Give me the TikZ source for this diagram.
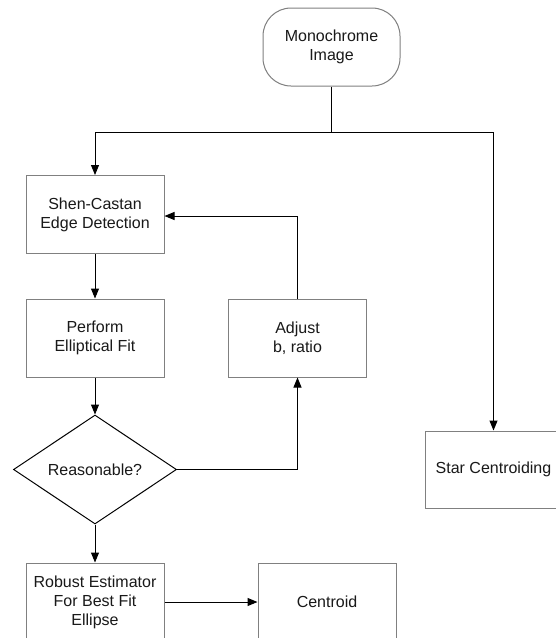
\documentclass[tikz,border=0pt]{standalone}
\usepackage{fontspec}
\setmainfont{Liberation Sans}
\usetikzlibrary{arrows.meta,shapes.geometric}

\tikzset{
  box/.style={draw=black!50, line width=1pt, fill=white, rectangle,
    minimum width=138pt, minimum height=78pt, inner sep=2pt,
    align=center, font=\fontsize{16}{19}\selectfont, text=black!90},
  startbox/.style={box, rounded corners=28pt, minimum width=137pt},
  decision/.style={draw=black, line width=1pt, diamond, shape aspect=1.5,
    minimum width=163pt, minimum height=109pt, inner sep=0pt,
    font=\fontsize{16}{19}\selectfont, text=black!90},
  flow/.style={draw=black, line width=1pt,
    -{Triangle[length=10pt,width=8pt]}},
  wire/.style={draw=black, line width=1pt}
}

\begin{document}
\begin{tikzpicture}[x=1pt, y=-1pt]
  \clip (0,0) rectangle (556,638);
  \fill[white] (0,0) rectangle (556,638);

  % process nodes
  \node[startbox] (mono)   at (331.5,47)  {Monochrome\\Image};
  \node[box]      (shen)   at (95,214.5)  {Shen-Castan\\Edge Detection};
  \node[box]      (perf)   at (95,338)    {Perform\\Elliptical Fit};
  \node[box]      (adj)    at (297.5,338) {Adjust\\b, ratio};
  \node[decision] (dia)    at (95,469.5)  {Reasonable?};
  \node[box]      (robust) at (95,602)    {Robust Estimator\\For Best Fit\\Ellipse};
  \node[box]      (cent)   at (327,602)   {Centroid};
  \node[box, minimum width=137pt, minimum height=77pt]
                  (star)   at (493.5,469.5) {Star Centroiding};

  % split below the input image
  \coordinate (split) at (331.5,132);
  \draw[wire] (mono.south) -- (split);
  \draw[flow] (split) -| (shen.north);
  \draw[flow] (split) -| (star.north);

  % main chain
  \draw[flow] (shen) -- (perf);
  \draw[flow] (perf) -- (dia.north);
  \draw[flow] (dia.south) -- (robust.north);
  \draw[flow] (robust.east) -- (cent.west);

  % retry loop
  \draw[flow] (dia.east) -| (adj.south);
  \draw[flow] (adj.north) |- ([yshift=-1.5pt]shen.east);
\end{tikzpicture}
\end{document}
